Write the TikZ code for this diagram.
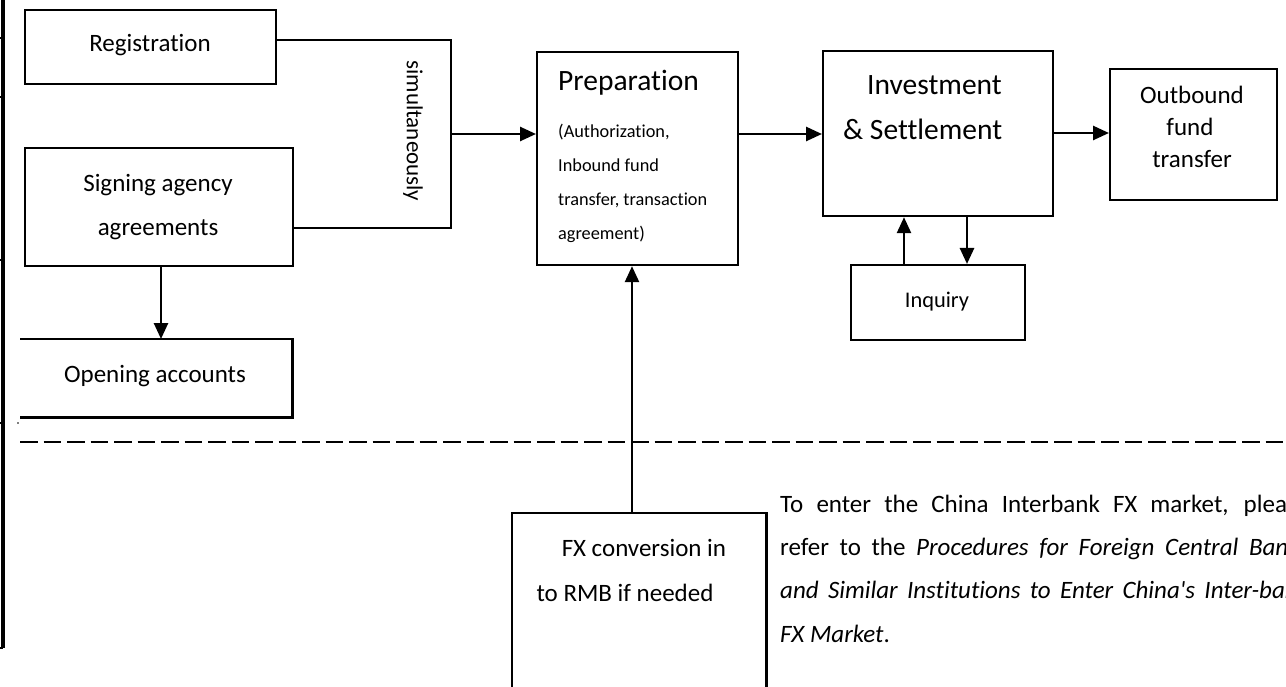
\documentclass[tikz,border=0pt]{standalone}
\usepackage{fontspec}
\setmainfont{Carlito}[Ligatures={TeX,CommonOff}]
% same face without the TeX quote mapping, for a straight apostrophe
\newfontfamily\carlitoplain{Carlito}[Ligatures=CommonOff]
\usetikzlibrary{arrows.meta}

\begin{document}
\begin{tikzpicture}[x=1pt,y=-1pt,
  box/.style={draw, line width=2.2pt, rectangle, inner sep=0pt, anchor=north west},
  frame/.style={rectangle, inner sep=0pt, anchor=north west},
  wire/.style={line width=2.2pt},
  flow/.style={line width=2.6pt, -{Triangle[length=16pt,width=14pt]}},
  tick/.style={line width=2pt},
  lbl/.style={inner sep=0pt, anchor=base, font=\fontsize{25}{30}\selectfont},
  lblw/.style={inner sep=0pt, anchor=base west, font=\fontsize{25}{30}\selectfont},
  title/.style={inner sep=0pt, anchor=base west, font=\fontsize{29.5}{34}\selectfont},
  small/.style={inner sep=0pt, anchor=base west, font=\fontsize{18.3}{22}\selectfont},
]
\useasboundingbox (0,0) rectangle (1286,687);
\clip (0,0) rectangle (1286,687);

% left frame line with its ticks
\draw[line width=3.5pt] (3,0) -- (3,648);
\foreach \ty in {38,97,260,423,648} \draw[tick] (0,\ty) -- (3,\ty);
\fill[gray] (17,422) rectangle (19,424);

% boxes
\node[box, minimum width=251pt, minimum height=74pt] (reg) at (24,9) {};
\node[box, minimum width=268pt, minimum height=118pt] (sign) at (24,147) {};
\node[frame, minimum width=272pt, minimum height=78pt] (open) at (20,339) {};
\draw[wire] (open.north west) -- (open.north east) -- (open.south east) -- (open.south west);
\node[box, minimum width=201pt, minimum height=213pt] (prep) at (536,51) {};
\node[box, minimum width=230pt, minimum height=165pt] (inv) at (822,50) {};
\node[box, minimum width=167pt, minimum height=131pt] (out) at (1109,68) {};
\node[box, minimum width=174pt, minimum height=75pt] (inq) at (850,264) {};
\node[frame, minimum width=254pt, minimum height=200pt] (fx) at (512,513) {};
\draw[wire] (fx.south west) -- (fx.north west) -- (fx.north east) -- (fx.south east);

% box texts
\node[lbl] (regt) at (150,52) {Registration};
\node[lbl] (signt1) at (158,192) {Signing agency};
\node[lbl] (signt2) at (158,236) {agreements};
\node[lbl] (opent) at (155,382) {Opening accounts};
\node[title] (prept) at (558,91) {Preparation};
\node[small] (preps1) at (558,138) {(Authorization,};
\node[small] (preps2) at (558,172) {Inbound fund};
\node[small] (preps3) at (558,206) {transfer, transaction};
\node[small] (preps4) at (558,240) {agreement)};
\node[title] (invt1) at (867,95) {Investment};
\node[title] (invt2) at (843,140) {\&\ Settlement};
\node[lbl] (outt1) at (1192,104) {Outbound};
\node[lbl] (outt2) at (1190,136) {fund};
\node[lbl] (outt3) at (1192,168) {transfer};
\node[lbl, font=\fontsize{22.4}{27}\selectfont] (inqt) at (937,308) {Inquiry};
\node[lbl] (fxt1) at (644,556) {FX conversion in};
\node[lbl] (fxt2) at (625,601) {to RMB if needed};

% joining bracket from the two left boxes
\coordinate (j1) at (451,40);
\coordinate (j2) at (451,228);
\coordinate (jm) at (451,134);
\draw[wire] (j1 -| reg.east) -- (j1) -- (j2) -- (j2 -| sign.east);
\node[inner sep=0pt, rotate=-90, font=\fontsize{23}{28}\selectfont] (sim) at (413,131) {simultaneously};

% connectors
\coordinate (a1) at (161,0);
\coordinate (a2) at (632,0);
\coordinate (a3) at (904,0);
\coordinate (a4) at (967,0);
\coordinate (r1) at (0,134);
\coordinate (r2) at (0,133);
\draw[flow] (jm) -- (jm -| prep.west);
\draw[flow] (sign.south -| a1) -- (open.north -| a1);
\draw[flow] (prep.east |- r1) -- (inv.west |- r1);
\draw[flow] (inv.east |- r2) -- (out.west |- r2);
\draw[flow] (inq.north -| a3) -- (inv.south -| a3);
\draw[flow] (inv.south -| a4) -- (inq.north -| a4);
\draw[flow] (fx.north -| a2) -- (prep.south -| a2);

% separator
\coordinate (d1) at (20,442);
\coordinate (d2) at (1286,442);
\draw[line width=2.4pt, dash pattern=on 17.5pt off 6pt] (d1) -- (d2);

% note
\node[lblw] (n1) at (780,512) {\makebox[529pt][s]{To enter the China Interbank FX market, please}};
\node[lblw] (n2) at (780,555) {\makebox[529pt][s]{refer to the \textit{Procedures for Foreign Central Banks}}};
\node[lblw] (n3) at (780,598) {\makebox[529pt][s]{\carlitoplain\itshape and Similar Institutions to Enter China's Inter-bank}};
\node[lblw] (n4) at (780,642) {\textit{FX Market}.};
\end{tikzpicture}
\end{document}
